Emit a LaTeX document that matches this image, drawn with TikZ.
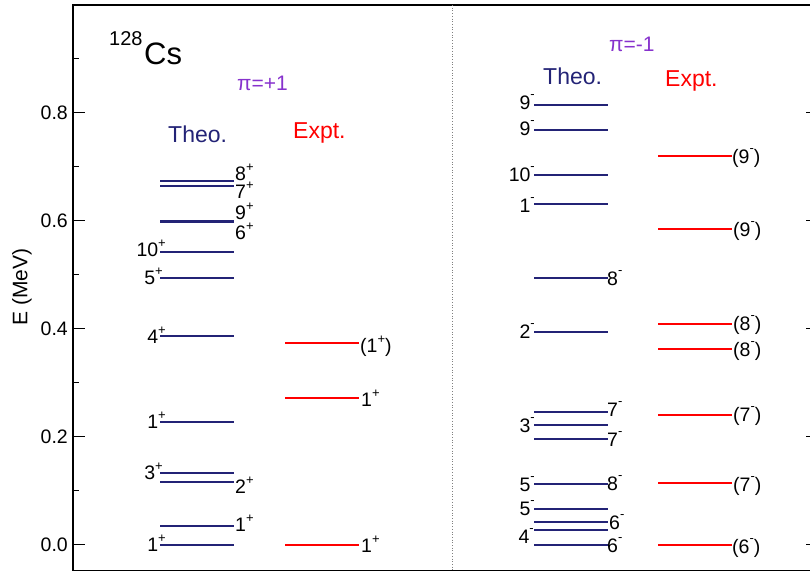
\documentclass[tikz,border=0pt]{standalone}
\usepackage{fontspec}
\setmainfont{Liberation Sans}
\definecolor{theoc}{RGB}{35,35,118}
\definecolor{exptc}{RGB}{255,0,0}
\definecolor{pic}{RGB}{135,50,205}
\newcommand\lf{\fontsize{19.5}{22}\selectfont}
\newcommand\spp{\raisebox{9pt}{\fontsize{13}{13}\selectfont +}}
\newcommand\smm{\raisebox{11pt}{\fontsize{13}{13}\selectfont -}}
\begin{document}
\begin{tikzpicture}[x=1pt,y=-1pt,
  theo/.style={draw=theoc,line width=1.8pt},
  expt/.style={draw=exptc,line width=1.8pt},
  lr/.style={anchor=base west,inner sep=0pt,yshift=-6.7pt,font=\lf},
  ll/.style={anchor=base east,inner sep=0pt,yshift=-6.7pt,font=\lf},
  head/.style={anchor=base west,inner sep=0pt,font=\fontsize{23}{26}\selectfont},
  pihead/.style={anchor=base west,inner sep=0pt,text=pic,font=\fontsize{21}{24}\selectfont},
  frame/.style={line width=1.2pt,black}]
\useasboundingbox (0,0) rectangle (810,574);
% frame
\draw[frame] (812,5) -- (73,5) -- (73,570.5) -- (812,570.5);
\draw[dotted,gray,line width=0.7pt] (452,5) -- (452,570.5);
% ticks
\foreach \e/\t in {0/0.0,0.2/0.2,0.4/0.4,0.6/0.6,0.8/0.8}{
  \pgfmathsetmacro\yy{544.7-540*\e}
  \draw[line width=0.8pt] (73,\yy) -- (85,\yy);
  \draw[line width=0.8pt] (806,\yy) -- (812,\yy);
  \node[ll] (tl\e) at (68,\yy) {\t};
}
\foreach \e in {0.1,0.3,0.5,0.7,0.9}{
  \pgfmathsetmacro\yy{544.7-540*\e}
  \draw[line width=0.8pt] (73,\yy) -- (79,\yy);
}
\node[rotate=90,font=\fontsize{21}{24}\selectfont] (ylab) at (22,287) {E (MeV)};
% titles
\node[anchor=base west,inner sep=0pt,font=\fontsize{20}{22}\selectfont] (nA) at (109,45) {128};
\node[anchor=base west,inner sep=0pt,font=\fontsize{31}{34}\selectfont] (nCs) at (144,64) {Cs};
\node[pihead] (pip) at (237,90) {π=+1};
\node[pihead] (pim) at (609,51.7) {π=-1};
\node[head,text=theoc] (th1) at (168,142) {Theo.};
\node[head,text=exptc] (ex1) at (293,138) {Expt.};
\node[head,text=theoc] (th2) at (543,84) {Theo.};
\node[head,text=exptc] (ex2) at (665,86) {Expt.};
% left theo levels
\draw[theo] (160,181) -- (234,181);
\draw[theo] (160,186) -- (234,186);
\draw[theo] (160,221) -- (234,221);
\draw[theo] (160,222) -- (234,222);
\draw[theo] (160,252) -- (234,252);
\draw[theo] (160,278) -- (234,278);
\draw[theo] (160,336) -- (234,336);
\draw[theo] (160,422) -- (234,422);
\draw[theo] (160,473) -- (234,473);
\draw[theo] (160,482) -- (234,482);
\draw[theo] (160,526) -- (234,526);
\draw[theo] (160,545) -- (234,545);
\node[lr] (a1) at (235,173.5) {8\spp};
\node[lr] (a2) at (235,191.5) {7\spp};
\node[lr] (a3) at (235,213) {9\spp};
\node[lr] (a4) at (235,233) {6\spp};
\node[ll] (a5) at (166,250) {10\spp};
\node[ll] (a6) at (163,278) {5\spp};
\node[ll] (a7) at (166,337) {4\spp};
\node[ll] (a8) at (166,422) {1\spp};
\node[ll] (a9) at (163,473) {3\spp};
\node[lr] (a10) at (235,487) {2\spp};
\node[lr] (a11) at (235,525) {1\spp};
\node[ll] (a12) at (166,545) {1\spp};
% left expt levels
\draw[expt] (285,343) -- (359,343);
\draw[expt] (285,398) -- (359,398);
\draw[expt] (285,545) -- (359,545);
\node[lr] (b1) at (360,346) {(1\spp)};
\node[lr] (b2) at (361,400) {1\spp};
\node[lr] (b3) at (361,546) {1\spp};
% right theo levels
\draw[theo] (534,105) -- (608,105);
\draw[theo] (534,130) -- (608,130);
\draw[theo] (534,175) -- (608,175);
\draw[theo] (534,204) -- (608,204);
\draw[theo] (534,278) -- (608,278);
\draw[theo] (534,332) -- (608,332);
\draw[theo] (534,412) -- (608,412);
\draw[theo] (534,425) -- (608,425);
\draw[theo] (534,439) -- (608,439);
\draw[theo] (534,484) -- (608,484);
\draw[theo] (534,509) -- (608,509);
\draw[theo] (534,522) -- (608,522);
\draw[theo] (534,530) -- (608,530);
\draw[theo] (534,545) -- (608,545);
\node[ll] (c1) at (535,103) {9\smm};
\node[ll] (c2) at (535,129) {9\smm};
\node[ll] (c3) at (535,175) {10\smm};
\node[ll] (c4) at (535,206) {1\smm};
\node[lr] (c5) at (607,279) {8\smm};
\node[ll] (c6) at (535,332) {2\smm};
\node[lr] (c7) at (607,410) {7\smm};
\node[ll] (c8) at (535,426) {3\smm};
\node[lr] (c9) at (607,440) {7\smm};
\node[ll] (c10) at (535,485) {5\smm};
\node[lr] (c11) at (607,484) {8\smm};
\node[ll] (c12) at (535,509) {5\smm};
\node[lr] (c13) at (609,522.5) {6\smm};
\node[ll] (c14) at (534,536.5) {4\smm};
\node[lr] (c15) at (607,545.5) {6\smm};
% right expt levels
\draw[expt] (658,156) -- (732,156);
\draw[expt] (658,229) -- (732,229);
\draw[expt] (658,324) -- (732,324);
\draw[expt] (658,349) -- (732,349);
\draw[expt] (658,415) -- (732,415);
\draw[expt] (658,483) -- (732,483);
\draw[expt] (658,545) -- (732,545);
\node[lr] (d1) at (732,157) {(9\smm)};
\node[lr] (d2) at (733,230) {(9\smm)};
\node[lr] (d3) at (733,324) {(8\smm)};
\node[lr] (d4) at (733,350) {(8\smm)};
\node[lr] (d5) at (733,415) {(7\smm)};
\node[lr] (d6) at (733,485) {(7\smm)};
\node[lr] (d7) at (732,547) {(6\smm)};
\end{tikzpicture}
\end{document}
